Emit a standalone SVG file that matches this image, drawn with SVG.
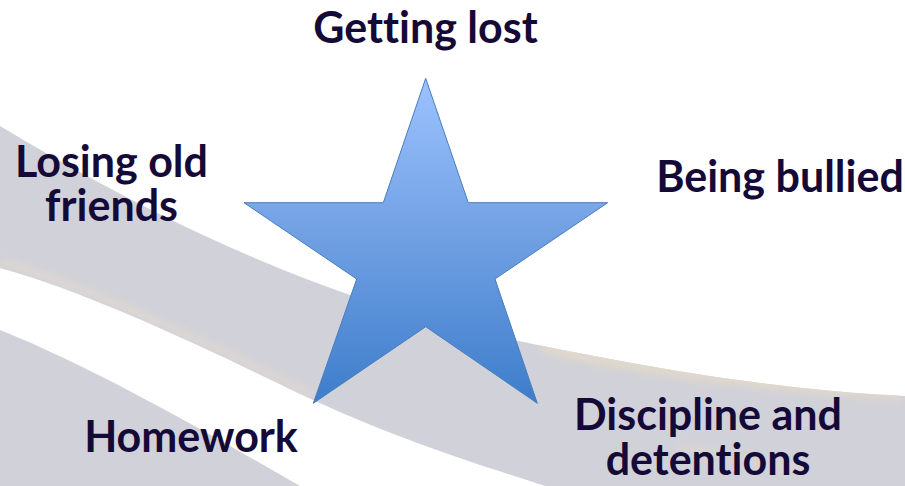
<svg xmlns="http://www.w3.org/2000/svg" width="905" height="486" viewBox="0 0 905 486">
  <defs>
    <linearGradient id="starFill" x1="0" y1="0" x2="0" y2="1">
      <stop offset="0" stop-color="#9cc2ff"/>
      <stop offset="0.5" stop-color="#6f9fe2"/>
      <stop offset="1" stop-color="#3d7dcb"/>
    </linearGradient>
    <filter id="soft" x="-10%" y="-50%" width="120%" height="200%">
      <feGaussianBlur stdDeviation="4"/>
    </filter>
    <clipPath id="grayClip">
      <path d="M0,126 C120,198 300,295 500,337 S800,390 905,396 L905,486 L0,486 Z"/>
    </clipPath>
    <style>
      .label { font-family: Lato, "Open Sans", "Liberation Sans", sans-serif; font-weight: 700; font-size: 43px; fill: #150a37; text-anchor: middle; font-variant-ligatures: none; }
    </style>
  </defs>

  <g id="background">
    <rect x="0" y="0" width="905" height="486" fill="#ffffff"/>
    <path d="M0,126 C120,198 300,295 500,337 S800,390 905,396 L905,486 L0,486 Z" fill="#d1d1d9"/>
    <g clip-path="url(#grayClip)">
      <path d="M540,345 C650,372 800,388 905,392" fill="none" stroke="#e2d9c9" stroke-width="14" filter="url(#soft)" opacity="0.9"/>
      <path d="M0,262 C100,290 250,365 313,395" fill="none" stroke="#e4dccd" stroke-width="6" filter="url(#soft)" opacity="0.8"/>
      <path d="M680,448 C720,455 760,462 800,470" fill="none" stroke="#e2d9c9" stroke-width="6" filter="url(#soft)" opacity="0.7"/>
    </g>
    <path d="M0,268 C100,295 250,370 313,400 C400,440 480,465 545,486 L300,486 C220,440 100,370 0,330 Z" fill="#ffffff"/>
  </g>

  <g id="star">
    <polygon points="425.7,78.3 468.3,202.7 607.7,202.7 495,279 537.3,403.3 425.7,326.7 313.3,403.3 356.7,279 244,202.7 383.3,202.7" fill="url(#starFill)" stroke="#4a7ebb" stroke-width="1"/>
  </g>

  <g id="node-getting-lost">
    <text class="label" x="425.5" y="43">Getting lost</text>
  </g>
  <g id="node-losing-old-friends">
    <text class="label" x="111.5" y="177">Losing old</text>
    <text class="label" x="111.5" y="221">friends</text>
  </g>
  <g id="node-being-bullied">
    <text class="label" x="780" y="192">Being bullied</text>
  </g>
  <g id="node-homework">
    <text class="label" x="191" y="452">Homework</text>
  </g>
  <g id="node-discipline">
    <text class="label" x="708" y="430">Discipline and</text>
    <text class="label" x="708" y="475">detentions</text>
  </g>

  <g id="connectors"></g>
</svg>
